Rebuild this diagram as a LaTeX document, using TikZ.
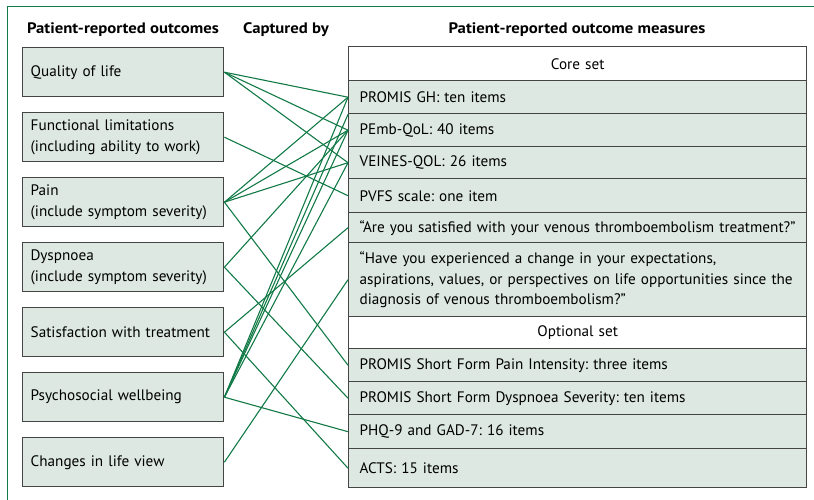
\documentclass[tikz,border=0pt]{standalone}
\usepackage{fontspec}
\setmainfont{PT Sans}
\newfontfamily\headfont[FakeStretch=1.1]{PT Sans}
\frenchspacing
\usetikzlibrary{arrows}
\usetikzlibrary{shapes}
\definecolor{boxfill}{HTML}{DCE8E1}
\definecolor{boxline}{HTML}{454545}
\definecolor{linkgreen}{HTML}{127A46}

\begin{document}
\begin{tikzpicture}[x = 1pt, y = -1pt]
\tikzstyle{OutcomeStyle}=[shape = rectangle, anchor = north west,
                          fill = boxfill, draw = boxline, line width = 1.4pt,
                          minimum width = 201pt, minimum height = 49pt,
                          text width = 185pt, inner xsep = 8pt, align = left,
                          font = \fontsize{15.2}{20.5}\selectfont]
\tikzstyle{MeasureStyle}=[shape = rectangle, anchor = north west,
                          fill = boxfill, draw = boxline, line width = 1.4pt,
                          minimum width = 458pt, text width = 436pt,
                          inner xsep = 11pt, inner ysep = 0pt, align = left,
                          font = \fontsize{15.2}{20.5}\selectfont]
\tikzstyle{SetStyle}=[MeasureStyle, fill = white, align = center]
\tikzstyle{HeadStyle}=[font = \headfont\fontsize{15.2}{16}\selectfont\bfseries]
\tikzstyle{LinkStyle}=[draw = linkgreen, line width = 1.1pt]
\useasboundingbox (0,0) rectangle (814,500);
\draw[draw = linkgreen, line width = 1pt] (7,500) -- (7,7) -- (814,7);
\node[HeadStyle] (h1) at (123,30) {Patient-reported outcomes};
\node[HeadStyle] (h2) at (286,30) {Captured by};
\node[HeadStyle] (h3) at (577,30) {Patient-reported outcome measures};
\node[OutcomeStyle] (o1) at (22,47)  {Quality of life};
\node[OutcomeStyle] (o2) at (22,112) {Functional limitations\\(including ability to work)};
\node[OutcomeStyle] (o3) at (22,177) {Pain\\(include symptom severity)};
\node[OutcomeStyle] (o4) at (22,242) {Dyspnoea\\(include symptom severity)};
\node[OutcomeStyle] (o5) at (22,307) {Satisfaction with treatment};
\node[OutcomeStyle] (o6) at (22,372) {Psychosocial wellbeing};
\node[OutcomeStyle] (o7) at (22,437) {Changes in life view};
\node[SetStyle, minimum height = 34pt] (m0) at (348,46) {Core set};
\node[MeasureStyle, minimum height = 33pt] (m1) at (348,80)  {PROMIS GH: ten items};
\node[MeasureStyle, minimum height = 33pt] (m2) at (348,113) {PEmb-QoL: 40 items};
\node[MeasureStyle, minimum height = 32pt] (m3) at (348,146) {VEINES-QOL: 26 items};
\node[MeasureStyle, minimum height = 34pt] (m4) at (348,178) {PVFS scale: one item};
\node[MeasureStyle, minimum height = 30pt] (m5) at (348,212) {“Are you satisfied with your venous thromboembolism treatment?”};
\node[MeasureStyle, minimum height = 74pt] (m6) at (348,242) {“Have you experienced a change in your expectations,\\aspirations, values, or perspectives on life opportunities since the\\diagnosis of venous thromboembolism?”};
\node[SetStyle, minimum height = 32pt] (m00) at (348,316) {Optional set};
\node[MeasureStyle, minimum height = 33pt] (m7) at (348,348)  {PROMIS Short Form Pain Intensity: three items};
\node[MeasureStyle, minimum height = 33pt] (m8) at (348,381)  {PROMIS Short Form Dyspnoea Severity: ten items};
\node[MeasureStyle, minimum height = 34pt] (m9) at (348,414)  {PHQ-9 and GAD-7: 16 items};
\node[MeasureStyle, minimum height = 39pt] (m10) at (348,448) {ACTS: 15 items};
\draw[LinkStyle] (o1.east) -- (m1.west);
\draw[LinkStyle] (o1.east) -- (m2.west);
\draw[LinkStyle] (o1.east) -- (m3.west);
\draw[LinkStyle] (o2.east) -- (m4.west);
\draw[LinkStyle] (o3.east) -- (m1.west);
\draw[LinkStyle] (o3.east) -- (m2.west);
\draw[LinkStyle] (o3.east) -- (m3.west);
\draw[LinkStyle] (o3.east) -- (m7.west);
\draw[LinkStyle] (o4.east) -- (m2.west);
\draw[LinkStyle] (o4.east) -- (m8.west);
\draw[LinkStyle] (o5.east) -- (m5.west);
\draw[LinkStyle] (o5.east) -- (m10.west);
\draw[LinkStyle] (o6.east) -- (m1.west);
\draw[LinkStyle] (o6.east) -- (m1.south west);
\draw[LinkStyle] (o6.east) -- (m2.west);
\draw[LinkStyle] (o6.east) -- (m3.west);
\draw[LinkStyle] (o6.east) -- (m9.west);
\draw[LinkStyle] (o7.east) -- (m6.west);
\end{tikzpicture}
\end{document}
